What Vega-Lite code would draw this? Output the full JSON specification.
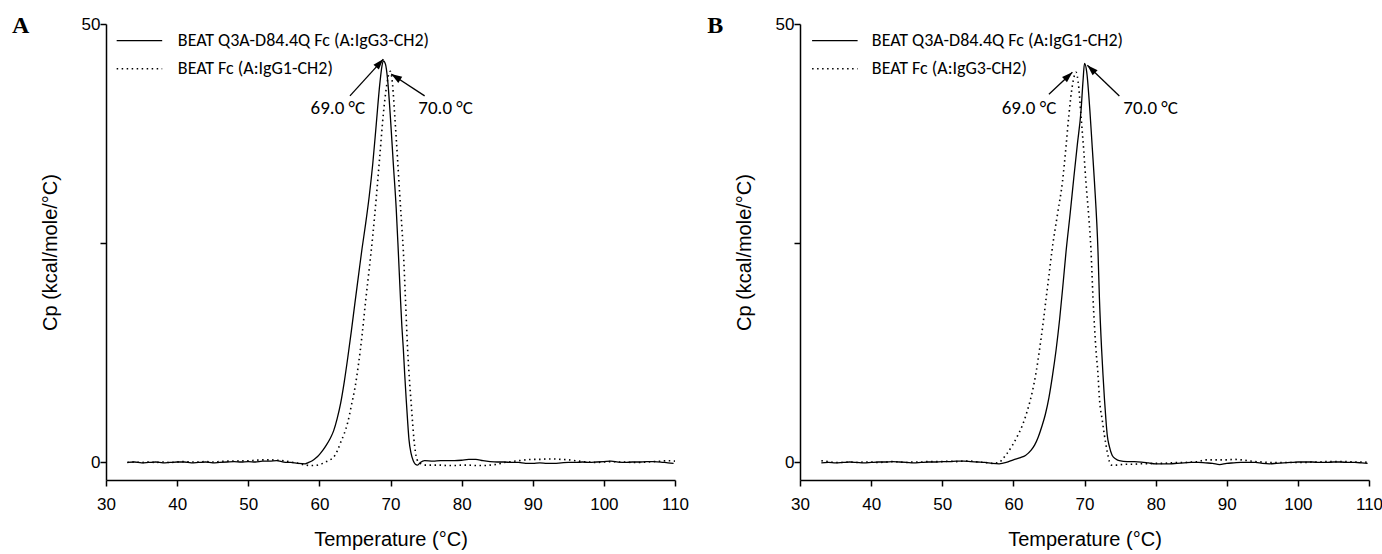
{
  "$schema": "https://vega.github.io/schema/vega-lite/v6.json",
  "background": "white",
  "padding": {"left": 11, "top": 13, "right": 2, "bottom": 2},
  "spacing": 18,
  "config": {
    "view": {"stroke": null},
    "axis": {
      "domainColor": "black", "domainWidth": 1.5, "tickColor": "black", "tickWidth": 1.5, "tickSize": 6,
      "labelColor": "black", "labelFont": "Liberation Sans Narrow, Liberation Sans, sans-serif", "labelFontSize": 17,
      "titleFont": "Liberation Sans", "titleFontSize": 20, "titleFontWeight": "normal", "titleColor": "black",
      "grid": false
    }
  },
  "resolve": {
    "scale": {"x": "independent", "y": "independent"},
    "axis": {"x": "independent", "y": "independent"}
  },
  "datasets": {
    "A_mut": [
      {"t":33,"c":0},{"t":34,"c":0.05},{"t":35,"c":-0.05},{"t":36,"c":0},{"t":37,"c":0.05},{"t":38,"c":-0.05},{"t":39,"c":0},{"t":40,"c":0.05},{"t":41,"c":0.05},{"t":42,"c":-0.05},{"t":43,"c":0},{"t":44,"c":0.05},{"t":45,"c":-0.05},{"t":46,"c":0},{"t":47,"c":0.05},{"t":48,"c":0.1},{"t":49,"c":0.05},{"t":50,"c":0.1},{"t":51,"c":0.05},{"t":52,"c":0.15},{"t":53,"c":0.15},{"t":54,"c":0.2},{"t":55,"c":0.05},{"t":56,"c":0},{"t":57,"c":-0.1},{"t":58,"c":-0.15},{"t":58.5,"c":0},{"t":59,"c":0.2},{"t":59.5,"c":0.5},{"t":60,"c":0.9},{"t":60.5,"c":1.4},{"t":61,"c":2.0},{"t":61.5,"c":2.7},{"t":62,"c":3.6},{"t":62.5,"c":5.0},{"t":63,"c":6.8},{"t":63.5,"c":9.2},{"t":64,"c":12.0},{"t":64.5,"c":15.0},{"t":65,"c":18.2},{"t":65.5,"c":21.3},{"t":66,"c":24.4},{"t":66.5,"c":27.2},{"t":67,"c":30.3},{"t":67.5,"c":34.0},{"t":68,"c":38.6},{"t":68.5,"c":43.2},{"t":68.8,"c":45.2},{"t":69,"c":45.8},{"t":69.3,"c":45.4},{"t":69.6,"c":43.6},{"t":70,"c":39.2},{"t":70.4,"c":34.0},{"t":70.8,"c":29},{"t":71.1,"c":24},{"t":71.4,"c":18.7},{"t":71.6,"c":15.5},{"t":71.8,"c":13},{"t":72.0,"c":10},{"t":72.2,"c":7.3},{"t":72.4,"c":4.8},{"t":72.6,"c":2.6},{"t":72.9,"c":1.0},{"t":73.2,"c":0.2},{"t":73.5,"c":-0.2},{"t":73.8,"c":-0.3},{"t":74.2,"c":0.0},{"t":74.8,"c":0.2},{"t":76,"c":0.15},{"t":77,"c":0.2},{"t":78,"c":0.2},{"t":79,"c":0.2},{"t":80,"c":0.25},{"t":81,"c":0.35},{"t":82,"c":0.35},{"t":83,"c":0.2},{"t":84,"c":0.1},{"t":85,"c":0.05},{"t":86,"c":0.05},{"t":87,"c":0},{"t":88,"c":0},{"t":89,"c":-0.1},{"t":90,"c":-0.1},{"t":91,"c":-0.05},{"t":92,"c":-0.1},{"t":93,"c":-0.1},{"t":94,"c":-0.05},{"t":95,"c":0},{"t":96,"c":0},{"t":97,"c":0.05},{"t":98,"c":0},{"t":99,"c":0.05},{"t":100,"c":0.1},{"t":101,"c":0.15},{"t":102,"c":0.05},{"t":103,"c":0},{"t":104,"c":0.05},{"t":105,"c":0.05},{"t":106,"c":0.1},{"t":107,"c":0.1},{"t":108,"c":0.05},{"t":109,"c":-0.05},{"t":109.8,"c":-0.1}
    ],
    "A_ref": [
      {"t":33,"c":0},{"t":34,"c":0.05},{"t":35,"c":0},{"t":36,"c":0.05},{"t":37,"c":0},{"t":38,"c":0.05},{"t":39,"c":0},{"t":40,"c":0.05},{"t":41,"c":0.1},{"t":42,"c":0.05},{"t":43,"c":0.05},{"t":44,"c":0.1},{"t":45,"c":0.05},{"t":46,"c":0.1},{"t":47,"c":0.15},{"t":48,"c":0.15},{"t":49,"c":0.2},{"t":50,"c":0.2},{"t":51,"c":0.25},{"t":52,"c":0.3},{"t":53,"c":0.3},{"t":54,"c":0.25},{"t":55,"c":0.2},{"t":56,"c":0.05},{"t":57,"c":-0.1},{"t":58,"c":-0.3},{"t":59,"c":-0.35},{"t":60,"c":-0.25},{"t":60.5,"c":-0.1},{"t":61,"c":0.1},{"t":61.5,"c":0.3},{"t":62,"c":0.6},{"t":62.5,"c":1.3},{"t":63,"c":2.3},{"t":63.5,"c":3.3},{"t":64,"c":4.6},{"t":64.5,"c":6.5},{"t":65,"c":8.5},{"t":65.5,"c":11.2},{"t":66,"c":14.5},{"t":66.5,"c":18.4},{"t":67,"c":22.0},{"t":67.5,"c":25.8},{"t":68,"c":30.2},{"t":68.5,"c":35.0},{"t":69,"c":39.8},{"t":69.5,"c":43.2},{"t":69.8,"c":44.4},{"t":70,"c":44.6},{"t":70.3,"c":43.0},{"t":70.6,"c":39.5},{"t":71,"c":34.5},{"t":71.3,"c":30.5},{"t":71.6,"c":26.8},{"t":71.8,"c":24.2},{"t":72.1,"c":18.7},{"t":72.4,"c":13},{"t":72.7,"c":9.0},{"t":72.9,"c":6.8},{"t":73.1,"c":4.6},{"t":73.3,"c":2.6},{"t":73.5,"c":1.2},{"t":73.7,"c":0.4},{"t":74,"c":0.0},{"t":74.5,"c":-0.2},{"t":75,"c":-0.3},{"t":76,"c":-0.3},{"t":77,"c":-0.3},{"t":78,"c":-0.35},{"t":79,"c":-0.35},{"t":80,"c":-0.3},{"t":81,"c":-0.3},{"t":82,"c":-0.35},{"t":83,"c":-0.35},{"t":84,"c":-0.3},{"t":85,"c":-0.2},{"t":86,"c":0},{"t":87,"c":0.1},{"t":88,"c":0.2},{"t":89,"c":0.3},{"t":90,"c":0.35},{"t":91,"c":0.35},{"t":92,"c":0.4},{"t":93,"c":0.4},{"t":94,"c":0.35},{"t":95,"c":0.3},{"t":96,"c":0.2},{"t":97,"c":0.1},{"t":98,"c":0.05},{"t":99,"c":0},{"t":100,"c":0.05},{"t":101,"c":0.1},{"t":102,"c":0.05},{"t":103,"c":0.05},{"t":104,"c":0},{"t":105,"c":0},{"t":106,"c":0.05},{"t":107,"c":0.1},{"t":108,"c":0.15},{"t":109,"c":0.2},{"t":110,"c":0.15}
    ],
    "B_mut": [
      {"t":33,"c":-0.05},{"t":34,"c":0},{"t":35,"c":-0.05},{"t":36,"c":0},{"t":37,"c":0.05},{"t":38,"c":0},{"t":39,"c":-0.05},{"t":40,"c":0},{"t":41,"c":0.05},{"t":42,"c":0.05},{"t":43,"c":0.1},{"t":44,"c":0.05},{"t":45,"c":0},{"t":46,"c":-0.05},{"t":47,"c":0},{"t":48,"c":0.05},{"t":49,"c":0.05},{"t":50,"c":0.1},{"t":51,"c":0.1},{"t":52,"c":0.15},{"t":53,"c":0.15},{"t":54,"c":0.1},{"t":55,"c":0.05},{"t":56,"c":0},{"t":57,"c":-0.1},{"t":58,"c":-0.15},{"t":59,"c":0},{"t":60,"c":0.3},{"t":61,"c":0.55},{"t":61.7,"c":0.8},{"t":62.5,"c":1.4},{"t":63,"c":2.0},{"t":63.5,"c":2.9},{"t":64,"c":4.1},{"t":64.5,"c":5.5},{"t":65,"c":7.4},{"t":65.5,"c":9.9},{"t":66,"c":12.8},{"t":66.5,"c":16.3},{"t":67,"c":20.5},{"t":67.4,"c":24.0},{"t":68,"c":28.5},{"t":68.5,"c":32.5},{"t":69,"c":36.3},{"t":69.5,"c":40.0},{"t":69.8,"c":43.6},{"t":70,"c":45.5},{"t":70.3,"c":44.6},{"t":70.8,"c":39.6},{"t":71.1,"c":35.8},{"t":71.4,"c":32},{"t":71.9,"c":24},{"t":72.1,"c":18.7},{"t":72.4,"c":13},{"t":72.6,"c":10},{"t":72.8,"c":7.3},{"t":73,"c":5.0},{"t":73.2,"c":3.1},{"t":73.5,"c":1.8},{"t":73.9,"c":0.8},{"t":74.4,"c":0.4},{"t":74.9,"c":0.2},{"t":76,"c":0.1},{"t":77,"c":0.1},{"t":78,"c":0.05},{"t":79,"c":-0.05},{"t":80,"c":-0.15},{"t":81,"c":-0.15},{"t":82,"c":-0.15},{"t":83,"c":-0.1},{"t":84,"c":-0.05},{"t":85,"c":0},{"t":86,"c":0},{"t":87,"c":-0.05},{"t":88,"c":-0.1},{"t":89,"c":-0.25},{"t":90,"c":-0.1},{"t":91,"c":-0.05},{"t":92,"c":0},{"t":93,"c":0},{"t":94,"c":0},{"t":95,"c":-0.1},{"t":96,"c":-0.15},{"t":97,"c":-0.1},{"t":98,"c":-0.05},{"t":99,"c":0},{"t":100,"c":0.05},{"t":101,"c":0.05},{"t":102,"c":0.05},{"t":103,"c":0},{"t":104,"c":0},{"t":105,"c":0.05},{"t":106,"c":0.05},{"t":107,"c":0},{"t":108,"c":0},{"t":109,"c":-0.05},{"t":109.8,"c":-0.1}
    ],
    "B_ref": [
      {"t":33,"c":0.2},{"t":34,"c":0.1},{"t":35,"c":0},{"t":36,"c":0},{"t":37,"c":0.05},{"t":38,"c":0},{"t":39,"c":0.05},{"t":40,"c":0.05},{"t":41,"c":0},{"t":42,"c":0.05},{"t":43,"c":0.1},{"t":44,"c":0.05},{"t":45,"c":0},{"t":46,"c":0.05},{"t":47,"c":0.05},{"t":48,"c":0.1},{"t":49,"c":0.1},{"t":50,"c":0.1},{"t":51,"c":0.15},{"t":52,"c":0.1},{"t":53,"c":0.15},{"t":54,"c":0.15},{"t":55,"c":0.05},{"t":56,"c":0},{"t":57,"c":-0.1},{"t":58,"c":0},{"t":58.5,"c":0.4},{"t":59,"c":0.9},{"t":59.9,"c":2.0},{"t":60.5,"c":2.9},{"t":61.3,"c":4.3},{"t":62,"c":6.0},{"t":62.7,"c":8.2},{"t":63.2,"c":10.3},{"t":63.7,"c":13.0},{"t":64.2,"c":16.0},{"t":64.6,"c":18.7},{"t":65,"c":21.3},{"t":65.4,"c":24.0},{"t":66.2,"c":28.3},{"t":66.9,"c":32},{"t":67.4,"c":36},{"t":67.8,"c":39.6},{"t":68.3,"c":43.0},{"t":68.8,"c":44.5},{"t":69.2,"c":42.7},{"t":69.5,"c":39.6},{"t":69.9,"c":35.5},{"t":70.2,"c":32},{"t":70.6,"c":28},{"t":70.9,"c":24.4},{"t":71.2,"c":18.7},{"t":71.6,"c":13},{"t":71.9,"c":10},{"t":72.1,"c":7.3},{"t":72.5,"c":4.8},{"t":72.8,"c":3.1},{"t":73.2,"c":1.2},{"t":73.5,"c":0.1},{"t":73.8,"c":-0.3},{"t":74.5,"c":-0.3},{"t":75,"c":-0.25},{"t":76,"c":-0.2},{"t":77,"c":-0.2},{"t":78,"c":-0.15},{"t":79,"c":-0.15},{"t":80,"c":-0.1},{"t":81,"c":-0.1},{"t":82,"c":-0.05},{"t":83,"c":0},{"t":84,"c":0},{"t":85,"c":0.05},{"t":86,"c":0.1},{"t":87,"c":0.3},{"t":88,"c":0.3},{"t":89,"c":0.3},{"t":90,"c":0.3},{"t":91,"c":0.35},{"t":92,"c":0.3},{"t":93,"c":0.2},{"t":94,"c":0.1},{"t":95,"c":0.05},{"t":96,"c":0},{"t":97,"c":0},{"t":98,"c":0},{"t":99,"c":0},{"t":100,"c":0},{"t":101,"c":0},{"t":102,"c":0.05},{"t":103,"c":0.05},{"t":104,"c":0.1},{"t":105,"c":0.1},{"t":106,"c":0.1},{"t":107,"c":0.1},{"t":108,"c":0.05},{"t":109,"c":0.05},{"t":110,"c":0}
    ]
  },
  "hconcat": [
    {
      "width": 569, "height": 456,
      "layer": [
        {
          "data": {"name": "A_mut"},
          "mark": {"type": "line", "color": "black", "strokeWidth": 1.3, "interpolate": "monotone"},
          "encoding": {
            "x": {"field": "t", "type": "quantitative", "scale": {"domain": [30, 110], "nice": false, "zero": false},
                  "axis": {"values": [30,35,40,45,50,55,60,65,70,75,80,85,90,95,100,105,110], "labelExpr": "datum.value % 10 == 0 ? datum.label : ''", "title": "Temperature (°C)", "titlePadding": 17, "labelPadding": 10, "labelFlush": false, "labelOverlap": false}},
            "y": {"field": "c", "type": "quantitative", "scale": {"domain": [-2, 50], "nice": false, "zero": false},
                  "axis": {"values": [0, 25, 50], "labelExpr": "datum.value == 25 ? '' : datum.label", "title": "Cp (kcal/mole/°C)", "titlePadding": 21, "labelPadding": 0}}
          }
        },
        {
          "data": {"name": "A_ref"},
          "mark": {"type": "line", "color": "black", "strokeWidth": 1.6, "strokeDash": [1.5, 3.5], "interpolate": "monotone"},
          "encoding": {"x": {"field": "t", "type": "quantitative"}, "y": {"field": "c", "type": "quantitative"}}
        },
        {
          "data": {"values": [{}]},
          "mark": {"type": "rule", "color": "black", "strokeWidth": 1.3},
          "encoding": {"x": {"datum": 31.5, "type": "quantitative"}, "x2": {"datum": 37.9}, "y": {"datum": 48.1, "type": "quantitative"}}
        },
        {
          "data": {"values": [{}]},
          "mark": {"type": "rule", "color": "black", "strokeWidth": 1.6, "strokeDash": [1.5, 3.5]},
          "encoding": {"x": {"datum": 31.5, "type": "quantitative"}, "x2": {"datum": 37.9}, "y": {"datum": 44.9, "type": "quantitative"}}
        },
        {
          "data": {"values": [{}]},
          "mark": {"type": "text", "font": "Carlito, Lato, sans-serif", "fontSize": 18, "color": "black", "align": "left", "baseline": "middle"},
          "encoding": {"x": {"datum": 40.1, "type": "quantitative"}, "y": {"datum": 48.1, "type": "quantitative"}, "text": {"value": "BEAT Q3A-D84.4Q Fc (A:IgG3-CH2)"}}
        },
        {
          "data": {"values": [{}]},
          "mark": {"type": "text", "font": "Carlito, Lato, sans-serif", "fontSize": 18, "color": "black", "align": "left", "baseline": "middle"},
          "encoding": {"x": {"datum": 40.1, "type": "quantitative"}, "y": {"datum": 44.9, "type": "quantitative"}, "text": {"value": "BEAT Fc (A:IgG1-CH2)"}}
        },
        {
          "data": {"values": [{}]},
          "mark": {"type": "rule", "color": "black", "strokeWidth": 1.3},
          "encoding": {"x": {"datum": 64.3, "type": "quantitative"}, "y": {"datum": 41.8, "type": "quantitative"}, "x2": {"datum": 69.0}, "y2": {"datum": 46.0}}
        },
        {
          "data": {"values": [{}]},
          "mark": {"type": "rule", "color": "black", "strokeWidth": 1.3},
          "encoding": {"x": {"datum": 74.8, "type": "quantitative"}, "y": {"datum": 41.8, "type": "quantitative"}, "x2": {"datum": 70.1}, "y2": {"datum": 44.3}}
        },
        {
          "data": {"values": [{}]},
          "mark": {"type": "point", "shape": "M0,0L-0.6,1.8L0.6,1.8Z", "filled": true, "color": "black", "opacity": 1, "size": 144, "angle": 42},
          "encoding": {"x": {"datum": 69.0, "type": "quantitative"}, "y": {"datum": 46.0, "type": "quantitative"}}
        },
        {
          "data": {"values": [{}]},
          "mark": {"type": "point", "shape": "M0,0L-0.6,1.8L0.6,1.8Z", "filled": true, "color": "black", "opacity": 1, "size": 144, "angle": 303},
          "encoding": {"x": {"datum": 70.1, "type": "quantitative"}, "y": {"datum": 44.3, "type": "quantitative"}}
        },
        {
          "data": {"values": [{}]},
          "mark": {"type": "text", "font": "Carlito, Lato, sans-serif", "fontSize": 19, "color": "black"},
          "encoding": {"x": {"datum": 62.6, "type": "quantitative"}, "y": {"datum": 40.4, "type": "quantitative"}, "text": {"value": "69.0 °C"}}
        },
        {
          "data": {"values": [{}]},
          "mark": {"type": "text", "font": "Carlito, Lato, sans-serif", "fontSize": 19, "color": "black"},
          "encoding": {"x": {"datum": 77.75, "type": "quantitative"}, "y": {"datum": 40.4, "type": "quantitative"}, "text": {"value": "70.0 °C"}}
        },
        {
          "data": {"values": [{}]},
          "mark": {"type": "text", "font": "Liberation Serif", "fontWeight": "bold", "fontSize": 24, "color": "black"},
          "encoding": {"x": {"datum": 18.0, "type": "quantitative"}, "y": {"datum": 49.8, "type": "quantitative"}, "text": {"value": "A"}}
        }
      ]
    },
    {
      "width": 569, "height": 456,
      "layer": [
        {
          "data": {"name": "B_mut"},
          "mark": {"type": "line", "color": "black", "strokeWidth": 1.3, "interpolate": "monotone"},
          "encoding": {
            "x": {"field": "t", "type": "quantitative", "scale": {"domain": [30, 110], "nice": false, "zero": false},
                  "axis": {"values": [30,35,40,45,50,55,60,65,70,75,80,85,90,95,100,105,110], "labelExpr": "datum.value % 10 == 0 ? datum.label : ''", "title": "Temperature (°C)", "titlePadding": 17, "labelPadding": 10, "labelFlush": false, "labelOverlap": false}},
            "y": {"field": "c", "type": "quantitative", "scale": {"domain": [-2, 50], "nice": false, "zero": false},
                  "axis": {"values": [0, 25, 50], "labelExpr": "datum.value == 25 ? '' : datum.label", "title": "Cp (kcal/mole/°C)", "titlePadding": 21, "labelPadding": 0}}
          }
        },
        {
          "data": {"name": "B_ref"},
          "mark": {"type": "line", "color": "black", "strokeWidth": 1.6, "strokeDash": [1.5, 3.5], "interpolate": "monotone"},
          "encoding": {"x": {"field": "t", "type": "quantitative"}, "y": {"field": "c", "type": "quantitative"}}
        },
        {
          "data": {"values": [{}]},
          "mark": {"type": "rule", "color": "black", "strokeWidth": 1.3},
          "encoding": {"x": {"datum": 31.7, "type": "quantitative"}, "x2": {"datum": 38.1}, "y": {"datum": 48.1, "type": "quantitative"}}
        },
        {
          "data": {"values": [{}]},
          "mark": {"type": "rule", "color": "black", "strokeWidth": 1.6, "strokeDash": [1.5, 3.5]},
          "encoding": {"x": {"datum": 31.7, "type": "quantitative"}, "x2": {"datum": 38.1}, "y": {"datum": 44.9, "type": "quantitative"}}
        },
        {
          "data": {"values": [{}]},
          "mark": {"type": "text", "font": "Carlito, Lato, sans-serif", "fontSize": 18, "color": "black", "align": "left", "baseline": "middle"},
          "encoding": {"x": {"datum": 40.1, "type": "quantitative"}, "y": {"datum": 48.1, "type": "quantitative"}, "text": {"value": "BEAT Q3A-D84.4Q Fc (A:IgG1-CH2)"}}
        },
        {
          "data": {"values": [{}]},
          "mark": {"type": "text", "font": "Carlito, Lato, sans-serif", "fontSize": 18, "color": "black", "align": "left", "baseline": "middle"},
          "encoding": {"x": {"datum": 40.1, "type": "quantitative"}, "y": {"datum": 44.9, "type": "quantitative"}, "text": {"value": "BEAT Fc (A:IgG3-CH2)"}}
        },
        {
          "data": {"values": [{}]},
          "mark": {"type": "rule", "color": "black", "strokeWidth": 1.3},
          "encoding": {"x": {"datum": 65.0, "type": "quantitative"}, "y": {"datum": 42.0, "type": "quantitative"}, "x2": {"datum": 68.3}, "y2": {"datum": 44.5}}
        },
        {
          "data": {"values": [{}]},
          "mark": {"type": "rule", "color": "black", "strokeWidth": 1.3},
          "encoding": {"x": {"datum": 74.9, "type": "quantitative"}, "y": {"datum": 41.8, "type": "quantitative"}, "x2": {"datum": 70.4}, "y2": {"datum": 45.3}}
        },
        {
          "data": {"values": [{}]},
          "mark": {"type": "point", "shape": "M0,0L-0.6,1.8L0.6,1.8Z", "filled": true, "color": "black", "opacity": 1, "size": 144, "angle": 47},
          "encoding": {"x": {"datum": 68.3, "type": "quantitative"}, "y": {"datum": 44.5, "type": "quantitative"}}
        },
        {
          "data": {"values": [{}]},
          "mark": {"type": "point", "shape": "M0,0L-0.6,1.8L0.6,1.8Z", "filled": true, "color": "black", "opacity": 1, "size": 144, "angle": 314},
          "encoding": {"x": {"datum": 70.4, "type": "quantitative"}, "y": {"datum": 45.3, "type": "quantitative"}}
        },
        {
          "data": {"values": [{}]},
          "mark": {"type": "text", "font": "Carlito, Lato, sans-serif", "fontSize": 19, "color": "black"},
          "encoding": {"x": {"datum": 62.2, "type": "quantitative"}, "y": {"datum": 40.4, "type": "quantitative"}, "text": {"value": "69.0 °C"}}
        },
        {
          "data": {"values": [{}]},
          "mark": {"type": "text", "font": "Carlito, Lato, sans-serif", "fontSize": 19, "color": "black"},
          "encoding": {"x": {"datum": 79.3, "type": "quantitative"}, "y": {"datum": 40.4, "type": "quantitative"}, "text": {"value": "70.0 °C"}}
        },
        {
          "data": {"values": [{}]},
          "mark": {"type": "text", "font": "Liberation Serif", "fontWeight": "bold", "fontSize": 24, "color": "black"},
          "encoding": {"x": {"datum": 18.1, "type": "quantitative"}, "y": {"datum": 49.8, "type": "quantitative"}, "text": {"value": "B"}}
        }
      ]
    }
  ]
}
